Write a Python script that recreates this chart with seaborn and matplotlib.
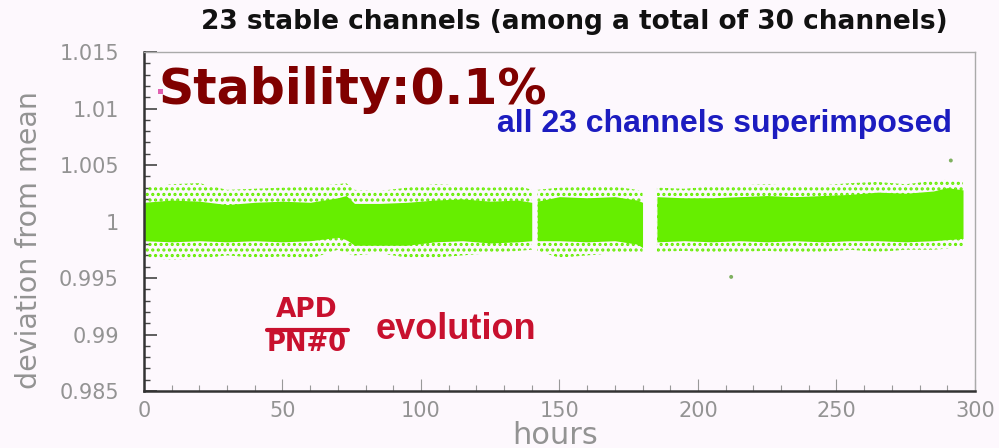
import matplotlib
matplotlib.use("Agg")
import matplotlib.pyplot as plt
import seaborn as sns
import pandas as pd
import numpy as np
from matplotlib.ticker import MultipleLocator

# envelope of the green cloud (hours, deviation)
seg1_hours = [0, 10, 20, 30, 40, 50, 60, 70, 73, 76, 85, 95, 105, 115, 125, 135, 140]
seg1_core_hi = [1.0017, 1.0019, 1.0018, 1.0015, 1.0017, 1.0018, 1.0017, 1.0021, 1.0023,
                1.0016, 1.0016, 1.0017, 1.0019, 1.0020, 1.0018, 1.0019, 1.0017]
seg1_core_lo = [0.9983, 0.9982, 0.9983, 0.9982, 0.9983, 0.9982, 0.9983, 0.9986, 0.9984,
                0.9979, 0.9979, 0.9979, 0.9982, 0.9983, 0.9981, 0.9982, 0.9983]
seg1_out_hi = [1.0030, 1.0033, 1.0034, 1.0028, 1.0029, 1.0030, 1.0031, 1.0033, 1.0034,
               1.0028, 1.0027, 1.0030, 1.0033, 1.0032, 1.0030, 1.0032, 1.0028]
seg1_out_lo = [0.9968, 0.9966, 0.9967, 0.9970, 0.9968, 0.9969, 0.9967, 0.9975, 0.9972,
               0.9970, 0.9972, 0.9968, 0.9968, 0.9970, 0.9972, 0.9974, 0.9975]

seg2_hours = [142, 150, 160, 170, 178, 180]
seg2_core_hi = [1.0018, 1.0022, 1.0021, 1.0022, 1.0019, 1.0017]
seg2_core_lo = [0.9983, 0.9983, 0.9982, 0.9983, 0.9980, 0.9977]
seg2_out_hi = [1.0028, 1.0030, 1.0031, 1.0031, 1.0028, 1.0026]
seg2_out_lo = [0.9974, 0.9968, 0.9970, 0.9972, 0.9973, 0.9972]

seg3_hours = [185.2, 195, 205, 215, 225, 235, 245, 255, 265, 275, 285, 290, 295.7]
seg3_core_hi = [1.0022, 1.0021, 1.0021, 1.0022, 1.0023, 1.0022, 1.0023, 1.0024, 1.0026,
                1.0025, 1.0027, 1.0030, 1.0028]
seg3_core_lo = [0.9982, 0.9983, 0.9982, 0.9983, 0.9982, 0.9983, 0.9982, 0.9983, 0.9983,
                0.9982, 0.9983, 0.9984, 0.9985]
seg3_out_hi = [1.0030, 1.0029, 1.0031, 1.0032, 1.0033, 1.0031, 1.0032, 1.0034, 1.0035,
               1.0033, 1.0036, 1.0037, 1.0035]
seg3_out_lo = [0.9973, 0.9974, 0.9972, 0.9973, 0.9974, 0.9972, 0.9973, 0.9975, 0.9973,
               0.9975, 0.9975, 0.9976, 0.9978]

# isolated points
outlier_hours = [212, 291.3]
outlier_vals = [0.9951, 1.0054]
pink_hours = [6]
pink_vals = [1.0115]

x_ticks = [0, 50, 100, 150, 200, 250, 300]
y_ticks = [0.985, 0.99, 0.995, 1.0, 1.005, 1.01, 1.015]
y_tick_labels = ["0.985", "0.99", "0.995", "1", "1.005", "1.01", "1.015"]

bg = "#fdf8fd"
green = "#66ee00"
grey = "#939393"

sns.set_style("ticks")
plt.rcParams["font.family"] = ["DejaVu Sans"]
plt.rcParams["hatch.linewidth"] = 1.5
plt.rcParams["hatch.color"] = green

fig = plt.figure(figsize=(9.99, 4.48), dpi=100, facecolor=bg)
ax = fig.add_axes([0.1441, 0.1272, 0.8318, 0.7567], facecolor=bg)

segments = [
    (seg1_hours, seg1_core_hi, seg1_core_lo, seg1_out_hi, seg1_out_lo),
    (seg2_hours, seg2_core_hi, seg2_core_lo, seg2_out_hi, seg2_out_lo),
    (seg3_hours, seg3_core_hi, seg3_core_lo, seg3_out_hi, seg3_out_lo),
]
for hrs, chi, clo, ohi, olo in segments:
    # sparse outer scatter as a dotted band, dense core solid
    ax.fill_between(hrs, olo, ohi, facecolor="none", edgecolor=green,
                    hatch="...", linewidth=0)
    ax.fill_between(hrs, clo, chi, color=green, linewidth=0)

pts = pd.DataFrame({"hours": outlier_hours, "dev": outlier_vals})
sns.scatterplot(data=pts, x="hours", y="dev", color="#7fb060", s=8,
                edgecolor="none", ax=ax)
pink = pd.DataFrame({"hours": pink_hours, "dev": pink_vals})
sns.scatterplot(data=pink, x="hours", y="dev", color="#e060b0", marker="s",
                s=14, edgecolor="none", ax=ax)

ax.set_xlim(0, 300)
ax.set_ylim(0.985, 1.015)
ax.set_xticks(x_ticks)
ax.set_xticklabels([str(t) for t in x_ticks])
ax.set_yticks(y_ticks)
ax.set_yticklabels(y_tick_labels)
ax.xaxis.set_minor_locator(MultipleLocator(10))
ax.yaxis.set_minor_locator(MultipleLocator(0.001))

ax.tick_params(axis="both", which="both", direction="in", labelcolor=grey,
               labelsize=15)
ax.tick_params(axis="y", which="major", length=9, width=1.2, color="#444", pad=18)
ax.tick_params(axis="y", which="minor", length=4.5, width=1.0, color="#444")
ax.tick_params(axis="x", which="major", length=9, width=0.8, color="#999", pad=7)
ax.tick_params(axis="x", which="minor", length=4.5, width=0.8, color="#999")

for side in ["left", "bottom"]:
    ax.spines[side].set_color("#333")
    ax.spines[side].set_linewidth(1.8)
for side in ["top", "right"]:
    ax.spines[side].set_visible(True)
    ax.spines[side].set_color("#aaaaaa")
    ax.spines[side].set_linewidth(1.0)

ax.set_xlabel("hours", fontsize=22, color=grey)
ax.xaxis.set_label_coords(0.495, -0.088)
ax.set_ylabel("deviation from mean", fontsize=20.5, color=grey)
ax.yaxis.set_label_coords(-0.122, 0.445)

fig.text(0.575, 0.951, "23 stable channels (among a total of 30 channels)",
         ha="center", va="center", fontsize=19, fontweight="bold", color="#111")
fig.text(158 / 999, 1 - 90 / 448, "Stability:0.1%", ha="left", va="center",
         fontsize=35.3, fontweight="bold", color="#800000")
fig.text(497 / 999, 1 - 124 / 448, "all 23 channels superimposed", ha="left",
         va="center", fontsize=23, fontweight="bold", color="#1c1cc0",
         family="Liberation Sans")

red = "#c8102e"
fig.text(307 / 999, 1 - 310 / 448, "APD", ha="center", va="center",
         fontsize=19, fontweight="bold", color=red)
fig.add_artist(plt.Line2D([267 / 999, 348 / 999], [1 - 330 / 448, 1 - 330 / 448],
                          color=red, linewidth=3))
fig.text(307 / 999, 1 - 344 / 448, "PN#0", ha="center", va="center",
         fontsize=18.5, fontweight="bold", color=red)
fig.text(376 / 999, 1 - 329 / 448, "evolution", ha="left", va="center",
         fontsize=26, fontweight="bold", color=red, family="Liberation Sans")

fig.savefig("out.png", dpi=100, facecolor=bg)
